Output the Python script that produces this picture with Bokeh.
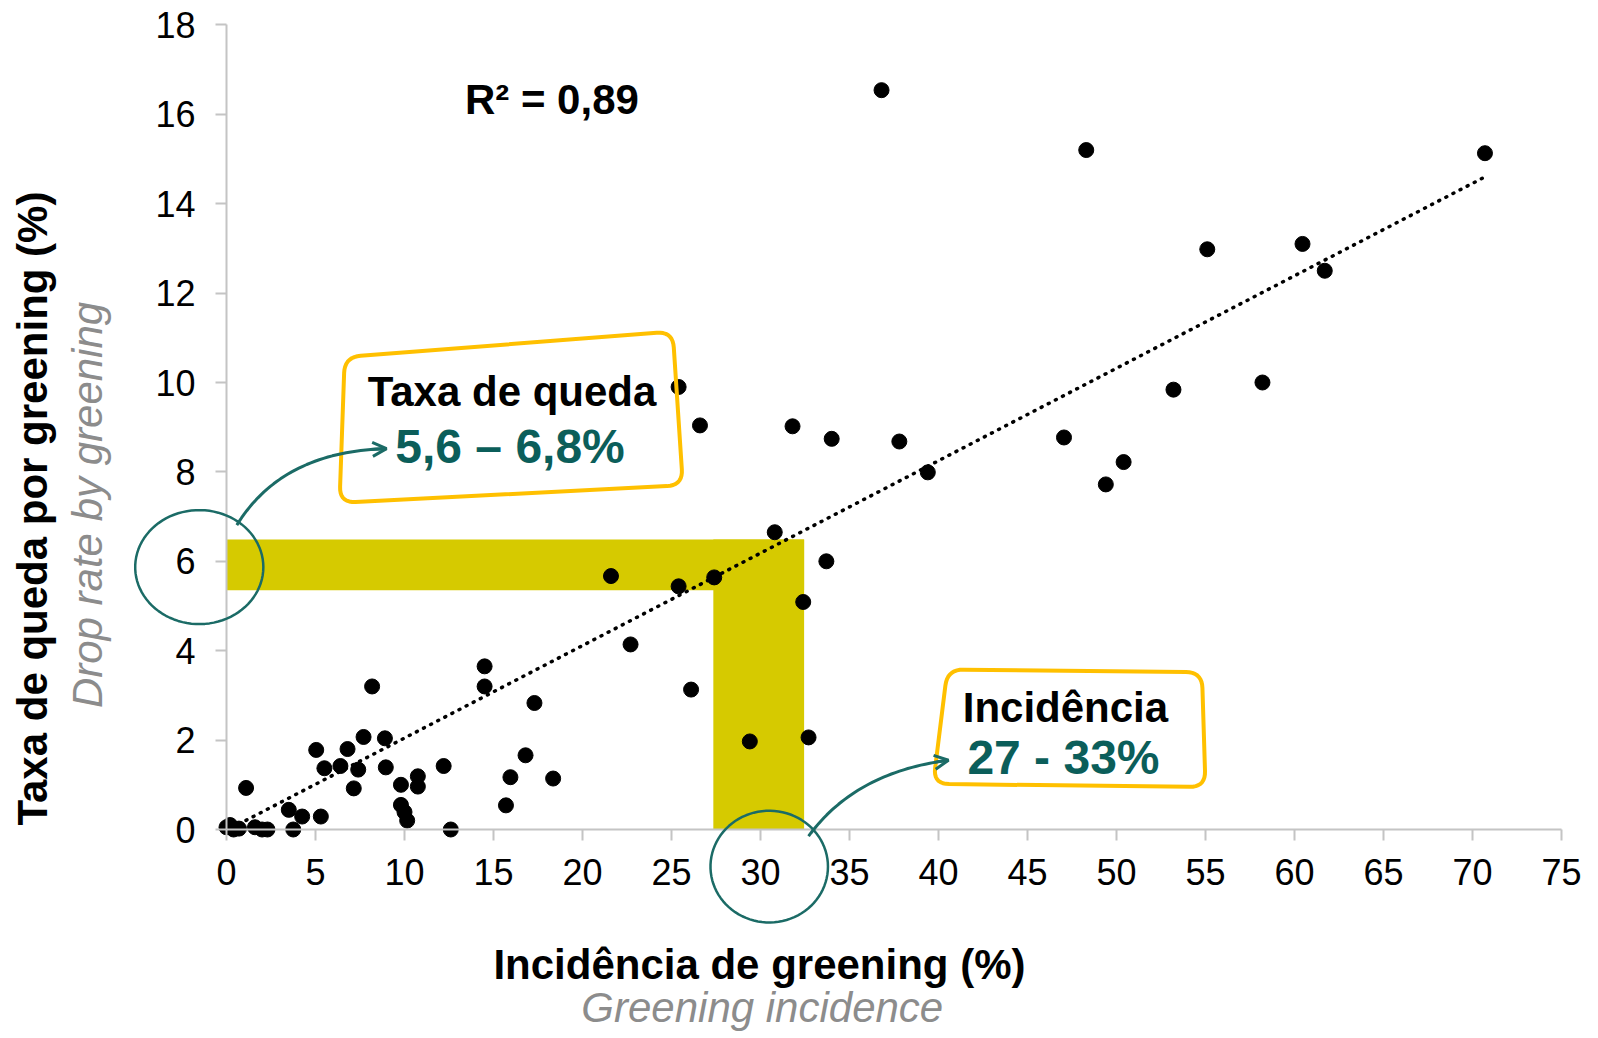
import numpy as np
from bokeh.plotting import figure
from bokeh.models import (FixedTicker, Label, PolyAnnotation, Arrow, OpenHead, Range1d)
from bokeh.embed import file_html
from bokeh.resources import INLINE

# ---------------- data ----------------
incidencia = [0.0, 0.2, 0.4, 0.7, 1.6, 2.0, 2.3,
              1.1, 3.5, 3.75, 4.25, 5.3,
              5.04, 5.5, 6.4, 6.8, 7.15, 7.4, 7.7, 8.18, 8.9, 8.95,
              9.8, 9.8, 10.0, 10.15, 10.75, 10.75,
              12.2, 12.6, 14.5, 14.5, 15.7, 15.95, 16.8, 17.3, 18.35,
              21.6, 22.7, 25.4, 26.1, 27.4, 29.4, 30.8, 32.4, 32.7, 33.7,
              25.4, 26.6, 31.8, 34.0, 36.8, 37.8, 39.4, 47.05, 48.3, 49.4,
              50.4, 53.2, 55.1, 58.2, 60.45, 61.7, 70.7]
queda = [0.05, 0.1, 0.0, 0.02, 0.05, 0.0, 0.0,
         0.93, 0.44, 0.0, 0.29, 0.29,
         1.78, 1.37, 1.42, 1.8, 0.92, 1.34, 2.07, 3.2, 2.04, 1.39,
         1.0, 0.55, 0.39, 0.2, 1.19, 0.96,
         1.42, 0.0, 3.65, 3.2, 0.54, 1.17, 1.66, 2.83, 1.14,
         5.67, 4.14, 5.44, 3.13, 5.64, 1.97, 6.65, 5.09, 2.06, 6.0,
         9.9, 9.04, 9.02, 8.74, 16.54, 8.68, 7.99, 8.77, 15.2, 7.72,
         8.22, 9.84, 12.98, 10.0, 13.1, 12.5, 15.13]

trend_x = [0.3, 70.7]
trend_y = [0.04, 14.6]

x_ticks = list(range(0, 80, 5))
y_ticks = list(range(0, 20, 2))

faixa_queda = [5.35, 6.49]      # highlighted drop-rate band
faixa_incid = [27.35, 32.45]    # highlighted incidence band

r2_text = "R² = 0,89"
box1_title, box1_value = "Taxa de queda", "5,6 – 6,8%"
box2_title, box2_value = "Incidência", "27 - 33%"
ylabel_pt, ylabel_en = "Taxa de queda por greening (%)", "Drop rate by greening"
xlabel_pt, xlabel_en = "Incidência de greening (%)", "Greening incidence"

# ---------------- styling / layout ----------------
FONT = "Liberation Sans"
TEAL_TXT = "#0B5E5A"
TEAL_LN = "#1B6B66"
GOLD = "#FFC000"
BAND = "#D6CA00"
AXIS = "#C4C4C4"

W, H = 1596, 1036
SX, SY = 17.8, 44.7        # px per data unit
X0, Y0 = 226, 829          # pixel position of the data origin

p = figure(width=W, height=H,
           x_range=Range1d(-X0 / SX, (W - X0) / SX),
           y_range=Range1d(-(H - Y0) / SY, Y0 / SY),
           output_backend="svg", toolbar_location=None,
           min_border_left=0, min_border_right=0,
           min_border_top=0, min_border_bottom=0)
p.outline_line_color = None
p.grid.visible = False
p.background_fill_color = "white"
p.border_fill_color = "white"

for ax in (p.xaxis[0], p.yaxis[0]):
    ax.fixed_location = 0
    ax.axis_line_color = AXIS
    ax.axis_line_width = 2
    ax.major_tick_line_color = AXIS
    ax.major_tick_line_width = 2
    ax.major_tick_out = 11
    ax.major_tick_in = 0
    ax.minor_tick_line_color = None
    ax.major_label_text_font = FONT
    ax.major_label_text_font_size = "36px"
    ax.major_label_text_color = "black"
p.xaxis.bounds = (0, 75)
p.yaxis.bounds = (0, 18)
p.xaxis.ticker = FixedTicker(ticks=x_ticks)
p.yaxis.ticker = FixedTicker(ticks=y_ticks)
p.xaxis.major_label_standoff = 18
p.yaxis.major_label_standoff = 20

# highlight bands
p.quad(left=[0, faixa_incid[0]], right=[faixa_incid[1], faixa_incid[1]],
       bottom=[faixa_queda[0], 0], top=[faixa_queda[1], faixa_queda[1]],
       fill_color=BAND, line_color=None)

# trend line
p.line(trend_x, trend_y, line_color="black", line_width=3.5,
       line_dash="1 7", line_cap="round")

# points
p.scatter(incidencia, queda, size=15, fill_color="black", line_color="black")


# ---------------- hand-drawn style annotations ----------------
def rounded_box(corners, r=16, n=10):
    pts = [np.array([x * SX, y * SY]) for x, y in corners]
    out = []
    k = len(pts)
    for i in range(k):
        p0, p1, p2 = pts[i - 1], pts[i], pts[(i + 1) % k]
        d0 = (p0 - p1) / np.linalg.norm(p0 - p1)
        d2 = (p2 - p1) / np.linalg.norm(p2 - p1)
        a, b = p1 + d0 * r, p1 + d2 * r
        for t in np.linspace(0, 1, n):
            out.append((1 - t) ** 2 * a + 2 * (1 - t) * t * p1 + t ** 2 * b)
    return [q[0] / SX for q in out], [q[1] / SY for q in out]


def ellipse(cx, cy, rx, ry, n=90):
    t = np.linspace(0, 2 * np.pi, n)
    return list(cx + rx * np.cos(t)), list(cy + ry * np.sin(t))


def curve(p0, p1, p2, n=40):
    t = np.linspace(0, 1, n)
    xs = (1 - t) ** 2 * p0[0] + 2 * (1 - t) * t * p1[0] + t ** 2 * p2[0]
    ys = (1 - t) ** 2 * p0[1] + 2 * (1 - t) * t * p1[1] + t ** 2 * p2[1]
    return list(xs) + list(xs[::-1]), list(ys) + list(ys[::-1]), (xs[-4], ys[-4])


for corners in ([(6.64, 10.57), (25.07, 11.14), (25.64, 7.70), (6.35, 7.31)],
                [(40.5, 3.58), (54.8, 3.52), (55.0, 0.95), (39.7, 1.02)]):
    bx, by = rounded_box(corners)
    p.add_layout(PolyAnnotation(xs=bx, ys=by, fill_alpha=0, fill_color=None,
                                line_color=GOLD, line_alpha=1.0, line_width=4,
                                level="overlay"))

for cx, cy, rx, ry in ((-1.53, 5.87, 3.6, 1.275), (30.49, -0.83, 3.3, 1.25)):
    ex, ey = ellipse(cx, cy, rx, ry)
    p.add_layout(PolyAnnotation(xs=ex, ys=ey, fill_alpha=0, fill_color=None,
                                line_color=TEAL_LN, line_alpha=1.0, line_width=2.5,
                                level="overlay"))

for p0, p1, p2 in (((0.58, 6.81), (3.13, 8.46), (8.99, 8.52)),
                   ((32.7, -0.15), (35.31, 1.28), (40.56, 1.55))):
    cx_, cy_, start = curve(p0, p1, p2)
    p.add_layout(PolyAnnotation(xs=cx_, ys=cy_, fill_alpha=0, fill_color=None,
                                line_color=TEAL_LN, line_alpha=1.0, line_width=3,
                                level="overlay"))
    p.add_layout(Arrow(end=OpenHead(size=14, line_color=TEAL_LN, line_width=3),
                       x_start=start[0], y_start=start[1], x_end=p2[0], y_end=p2[1],
                       line_color=TEAL_LN, line_width=3, level="overlay"))


def lab(x, y, text, size, color="black", style="bold", angle=0.0):
    p.add_layout(Label(x=x, y=y, text=text, text_font=FONT, text_font_size=size,
                       text_font_style=style, text_color=color, angle=angle,
                       text_align="center", text_baseline="middle", level="overlay"))


lab(18.28, 16.33, r2_text, "42px")
lab(16.04, 9.79, box1_title, "42px")
lab(15.93, 8.56, box1_value, "48px", color=TEAL_TXT)
lab(47.13, 2.72, box2_title, "42px")
lab(47.02, 1.61, box2_value, "48px", color=TEAL_TXT)
lab(29.94, -3.02, xlabel_pt, "42px")
lab(30.1, -3.98, xlabel_en, "42px", color="#8C8C8C", style="italic")
lab(-10.9, 7.18, ylabel_pt, "42px", angle=np.pi / 2)
lab(-7.81, 7.26, ylabel_en, "42px", color="#8C8C8C", style="italic", angle=np.pi / 2)

open("out.html", "w").write(file_html(p, INLINE))
